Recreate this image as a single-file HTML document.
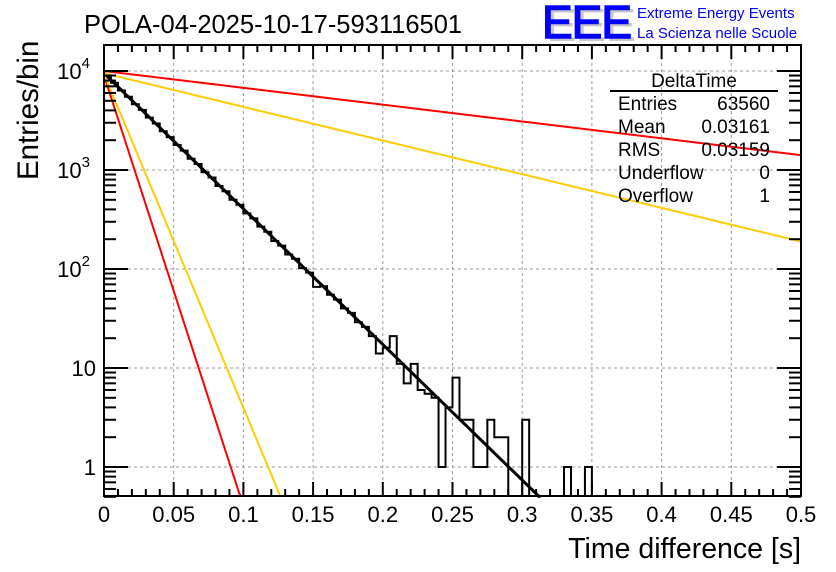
<!DOCTYPE html>
<html><head><meta charset="utf-8"><style>
body{margin:0;background:#fff;}
svg{display:block;font-family:"Liberation Sans",Arial,sans-serif;}
</style></head><body>
<svg id="c" width="836" height="572" viewBox="0 0 836 572">
<g id="grid"></g>
<g id="hist"></g>
<g id="curves"></g>
<g id="axes"></g>
<text x="84" y="33" font-size="25.5">POLA-04-2025-10-17-593116501</text>
<g>
<text x="546" y="41" font-size="46" fill="#c8c8c8" letter-spacing="-1">EEE</text>
<text x="542" y="38" font-size="46" fill="#0000ff" letter-spacing="-1" stroke="#0000ff" stroke-width="1.5">EEE</text>
<text x="637" y="18" font-size="15" fill="#0000ff">Extreme Energy Events</text>
<text x="637" y="38" font-size="15" fill="#0000ff">La Scienza nelle Scuole</text>
</g>
<g font-size="19">
<text x="694" y="87" text-anchor="middle">DeltaTime</text>
<line x1="610" y1="91" x2="778" y2="91" stroke="#000" stroke-width="2"/>
<text x="618" y="110">Entries</text><text x="770" y="110" text-anchor="end">63560</text>
<text x="618" y="133">Mean</text><text x="770" y="133" text-anchor="end">0.03161</text>
<text x="618" y="156">RMS</text><text x="770" y="156" text-anchor="end">0.03159</text>
<text x="618" y="179">Underflow</text><text x="770" y="179" text-anchor="end">0</text>
<text x="618" y="202">Overflow</text><text x="770" y="202" text-anchor="end">1</text>
</g>
<text x="801" y="558" font-size="28.5" text-anchor="end">Time difference [s]</text>
<text transform="translate(38,180) rotate(-90)" font-size="29.5" text-anchor="start">Entries/bin</text>
</svg>
<script>
// data
const binWidth = 0.005;
const counts = [8800,7600,6350,5500,4620,4050,3380,2950,2460,2150,
 1790,1570,1300,1150,950,840,690,610,500,445,
 365,325,268,238,192,172,140,127,102,92,
 66,67,55,49,40,36,29,26,21,14,
 16,21,11,7,11,6,5.5,5,1,4,
 8,3,3,1,1,3,2,2,0,0,
 3,0,0,0,0,0,1,0,0,1,
 0,0,0,0,0,0,0,0,0,0,
 0,0,0,0,0,0,0,0,0,0,
 0,0,0,0,0,0,0,0,0,0];
const xTicks = [0,0.05,0.1,0.15,0.2,0.25,0.3,0.35,0.4,0.45,0.5];
const xTickLabels = ["0","0.05","0.1","0.15","0.2","0.25","0.3","0.35","0.4","0.45","0.5"];
const yDecades = [1,10,100,1000,10000];
// fit curves: N0, decay rate (decades per s)
const fitN0 = [9500, 10000, 9500, 9000, 9300];
const fitRate = [13.7, 1.7, 3.4, 43.5, 33.7];
const fitColors = ["#000","#ff0000","#ffcc00","#ff0000","#ffcc00"];
const fitWidths = [3,2,2,2,2];

const L=104,R=801,T=45,B=496, yMin=0.5, yOne=467, decPx=99;
const sx=t=>L+(t-0)/(0.5)*(R-L);
const sy=v=>yOne-decPx*Math.log10(v);
const NS="http://www.w3.org/2000/svg";
function mk(tag,attrs,parent){const e=document.createElementNS(NS,tag);for(const k in attrs)e.setAttribute(k,attrs[k]);parent.appendChild(e);return e;}
const grid=document.getElementById('grid'),axes=document.getElementById('axes'),hist=document.getElementById('hist'),curves=document.getElementById('curves');
xTicks.forEach((t,i)=>{
 if(i>0&&i<xTicks.length-1){const g=mk('line',{x1:sx(t),x2:sx(t),y1:T,y2:B,stroke:'#999','stroke-dasharray':'3,3'},grid);
 
 }
 const tx=mk('text',{x:sx(t),y:522,'font-size':22,'text-anchor':'middle'},axes);tx.textContent=xTickLabels[i];
 
 
});
yDecades.forEach(v=>{
 const y=sy(v);
 const g=mk('line',{x1:L,x2:R,y1:y,y2:y,stroke:'#999','stroke-dasharray':'3,3'},grid);
 
 
 const e=Math.round(Math.log10(v));
 const lab=mk('text',{x:e<=1?96:90,y:y+8,'font-size':22,'text-anchor':'end'},axes);
 
 
 if(e<=1){lab.textContent=String(v);}else{lab.textContent='10';const s=mk('tspan',{dy:-11,'font-size':15},lab);s.textContent=String(e);}
});
// ticks
for(let k=0;k<=50;k++){const t=k*0.01,x=sx(t),len=(k%5==0)?14:7;
 mk('line',{x1:x,x2:x,y1:B,y2:B-len,stroke:'#000','stroke-width':2},axes);
 mk('line',{x1:x,x2:x,y1:T,y2:T+len,stroke:'#000','stroke-width':2},axes);}
for(let e=-1;e<=4;e++){for(let m=1;m<=9;m++){const v=m*Math.pow(10,e);if(v<yMin)continue;const y=sy(v);if(y<T)continue;const len=m==1?24:12;
 mk('line',{x1:L,x2:L+len,y1:y,y2:y,stroke:'#000','stroke-width':2},axes);
 mk('line',{x1:R,x2:R-len,y1:y,y2:y,stroke:'#000','stroke-width':2},axes);}}
const fr=mk('rect',{x:L,y:T,width:R-L,height:B-T,fill:'none',stroke:'#000','stroke-width':2},axes);


// histogram
const clipY=v=>v<=0?B:Math.min(B,sy(v));
let d='M'+sx(0)+','+B;
counts.forEach((c,i)=>{const y=clipY(c);d+=' L'+sx(i*binWidth)+','+y+' L'+sx((i+1)*binWidth)+','+y;});
d+=' L'+sx(counts.length*binWidth)+','+B;
const hp=mk('path',{d:d,fill:'none',stroke:'#000','stroke-width':2},hist);


// curves
fitN0.forEach((n0,i)=>{let pts=[];for(let k=0;k<=500;k++){const t=k*0.001;const v=n0*Math.pow(10,-fitRate[i]*t);if(v<yMin){pts.push([sx(t),B]);break;}pts.push([sx(t),sy(v)]);}
 const p=mk('polyline',{points:pts.map(p=>p.join(',')).join(' '),fill:'none',stroke:fitColors[i],'stroke-width':fitWidths[i]},curves);
 
 });
</script>
</body></html>
